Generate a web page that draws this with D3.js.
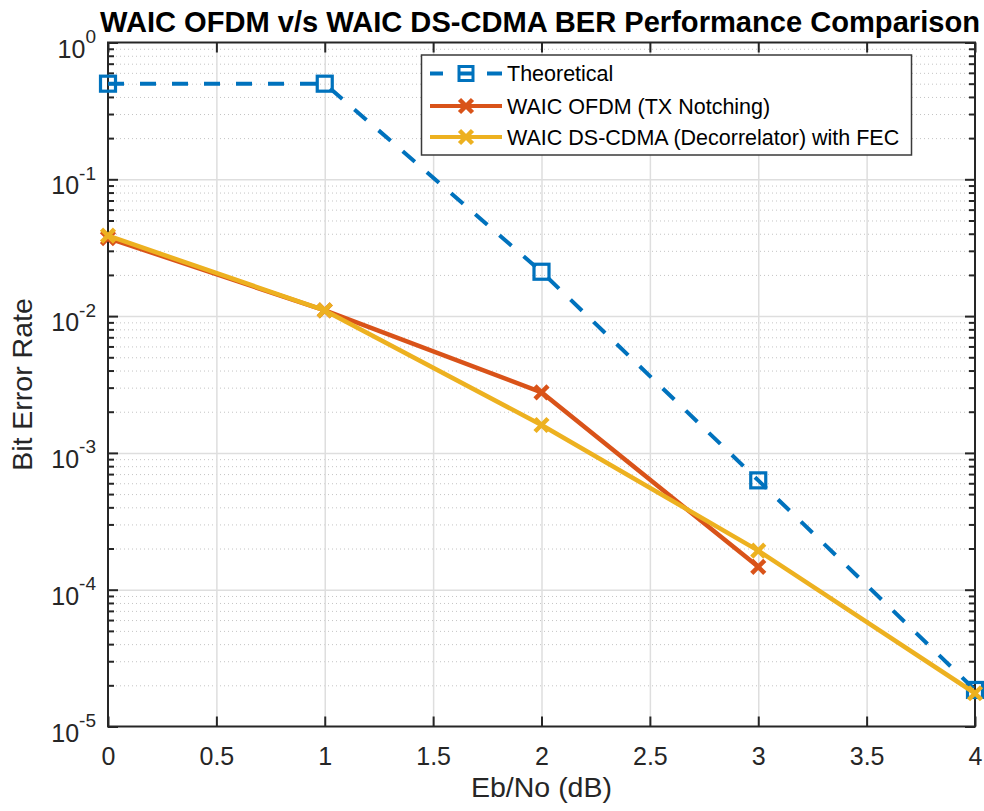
<!DOCTYPE html>
<html>
<head>
<meta charset="utf-8">
<script src="https://cdn.jsdelivr.net/npm/d3@7/dist/d3.min.js"></script>
<style>
  body { margin: 0; background: #fff; }
  svg { font-family: "Liberation Sans", Arial, Helvetica, sans-serif; }
  .grid line { stroke: #dedede; stroke-width: 1.5; }
  .minor line { stroke: #c4c4c4; stroke-width: 1; stroke-dasharray: 1,3; }
  .grid path, .minor path, .ax path { display: none; }
  .ax line { stroke: #262626; stroke-width: 2; }
</style>
</head>
<body>
<svg width="984" height="811"></svg>
<script>
// Eb/No values (dB)
var ebno = [0, 1, 2, 3, 4];
var ebnoOfdm = [0, 1, 2, 3];

// BER series
var berTheory = [0.5, 0.5, 0.0211, 6.3e-4, 1.85e-5];
var berOfdm = [0.0372, 0.011, 2.77e-3, 1.47e-4];
var berCdma = [0.0387, 0.011, 1.6e-3, 1.93e-4, 1.75e-5];

var xTicks = [0, 0.5, 1, 1.5, 2, 2.5, 3, 3.5, 4];
var yDecades = [1e-5, 1e-4, 1e-3, 1e-2, 1e-1, 1];
var yExp = ["-5", "-4", "-3", "-2", "-1", "0"];

var legendNames = ["Theoretical", "WAIC OFDM (TX Notching)", "WAIC DS-CDMA (Decorrelator) with FEC"];
var colors = ["#0072BD", "#D95319", "#EDB120"];

var svg = d3.select("svg"),
    pLeft = 108, pRight = 975, pTop = 42.5, pBottom = 726.5,
    width = pRight - pLeft, height = pBottom - pTop;

var x = d3.scaleLinear().domain([0, 4]).range([pLeft, pRight]);
var y = d3.scaleLog().domain([1e-5, 1]).range([pBottom, pTop]);

// minor values 2..9 per decade
var yMinor = [];
for (var e = -5; e < 0; e++) {
    for (var m = 2; m <= 9; m++) yMinor.push(m * Math.pow(10, e));
}

// grid
svg.append("g").attr("class", "minor")
    .attr("transform", "translate(" + pLeft + ",0)")
    .call(d3.axisLeft(y).tickValues(yMinor).tickSize(-width).tickFormat(""));
svg.append("g").attr("class", "grid")
    .attr("transform", "translate(" + pLeft + ",0)")
    .call(d3.axisLeft(y).tickValues(yDecades.slice(1, -1)).tickSize(-width).tickFormat(""));
svg.append("g").attr("class", "grid")
    .attr("transform", "translate(0," + pBottom + ")")
    .call(d3.axisBottom(x).tickValues(xTicks.slice(1, -1)).tickSize(-height).tickFormat(""));

// ticks (inward) on all four sides
svg.append("g").attr("class", "ax xb")
    .attr("transform", "translate(0," + pBottom + ")")
    .call(d3.axisBottom(x).tickValues(xTicks).tickSize(-10).tickFormat(d3.format("")));
svg.append("g").attr("class", "ax")
    .attr("transform", "translate(0," + pTop + ")")
    .call(d3.axisTop(x).tickValues(xTicks).tickSize(-10).tickFormat(""));
svg.append("g").attr("class", "ax")
    .attr("transform", "translate(" + pLeft + ",0)")
    .call(d3.axisLeft(y).tickValues(yDecades).tickSize(-10).tickFormat(""));
svg.append("g").attr("class", "ax")
    .attr("transform", "translate(" + pLeft + ",0)")
    .call(d3.axisLeft(y).tickValues(yMinor).tickSize(-6).tickFormat(""));
svg.append("g").attr("class", "ax")
    .attr("transform", "translate(" + pRight + ",0)")
    .call(d3.axisRight(y).tickValues(yDecades).tickSize(-10).tickFormat(""));
svg.append("g").attr("class", "ax")
    .attr("transform", "translate(" + pRight + ",0)")
    .call(d3.axisRight(y).tickValues(yMinor).tickSize(-6).tickFormat(""));

svg.selectAll(".xb text")
    .attr("y", 38.5).attr("dy", null)
    .attr("fill", "#262626").style("font-size", "25px").style("font-family", null);

// y tick labels 10^n
yDecades.forEach(function(v, i) {
    var t = svg.append("text")
        .attr("x", 96).attr("y", y(v) + 15)
        .attr("text-anchor", "end")
        .attr("fill", "#262626")
        .style("font-size", "25px");
    t.append("tspan").text("10");
    t.append("tspan").attr("dy", -14.5).style("font-size", "19px").text(yExp[i]);
});

// box
svg.append("rect")
    .attr("x", pLeft).attr("y", pTop).attr("width", width).attr("height", height)
    .attr("fill", "none").attr("stroke", "#262626").attr("stroke-width", 2);

// series
var line = d3.line().x(function(d) { return x(d[0]); }).y(function(d) { return y(d[1]); });
var cross = "M-6.5,-6.5L6.5,6.5M-6.5,6.5L6.5,-6.5";

var theory = d3.zip(ebno, berTheory),
    ofdm = d3.zip(ebnoOfdm, berOfdm),
    cdma = d3.zip(ebno, berCdma);

svg.append("path").datum(theory)
    .attr("d", line).attr("fill", "none")
    .attr("stroke", colors[0]).attr("stroke-width", 4)
    .attr("stroke-dasharray", "16,16");
svg.selectAll(".sq").data(theory).enter().append("rect")
    .attr("x", function(d) { return x(d[0]) - 7.5; })
    .attr("y", function(d) { return y(d[1]) - 7.5; })
    .attr("width", 15).attr("height", 15)
    .attr("fill", "none").attr("stroke", colors[0]).attr("stroke-width", 3.2);

[[ofdm, colors[1]], [cdma, colors[2]]].forEach(function(s) {
    svg.append("path").datum(s[0])
        .attr("d", line).attr("fill", "none")
        .attr("stroke", s[1]).attr("stroke-width", 4.5)
        .attr("stroke-linejoin", "round");
    svg.append("g").selectAll("path").data(s[0]).enter().append("path")
        .attr("transform", function(d) { return "translate(" + x(d[0]) + "," + y(d[1]) + ")"; })
        .attr("d", cross).attr("fill", "none")
        .attr("stroke", s[1]).attr("stroke-width", 4.5);
});

// title and axis labels
svg.append("text")
    .attr("x", 540).attr("y", 31.5)
    .attr("text-anchor", "middle").attr("fill", "#000")
    .style("font-size", "29.1px").style("font-weight", "bold")
    .text("WAIC OFDM v/s WAIC DS-CDMA BER Performance Comparison");
svg.append("text")
    .attr("x", (pLeft + pRight) / 2).attr("y", 797)
    .attr("text-anchor", "middle").attr("fill", "#262626")
    .style("font-size", "28.5px")
    .text("Eb/No (dB)");
svg.append("text")
    .attr("transform", "translate(32," + (pTop + pBottom) / 2 + ") rotate(-90)")
    .attr("text-anchor", "middle").attr("fill", "#262626")
    .style("font-size", "28.5px")
    .text("Bit Error Rate");

// legend
var lg = svg.append("g");
lg.append("rect")
    .attr("x", 421.5).attr("y", 55).attr("width", 490).attr("height", 100)
    .attr("fill", "#fff").attr("stroke", "#3a3a3a").attr("stroke-width", 1.5);
var rowY = [73.5, 106, 137];
legendNames.forEach(function(name, i) {
    var ry = rowY[i];
    var l = lg.append("line")
        .attr("x1", 430).attr("x2", 502).attr("y1", ry).attr("y2", ry)
        .attr("stroke", colors[i]).attr("stroke-width", 4);
    if (i === 0) {
        l.attr("stroke-dasharray", "13,15,14,15,15");
        lg.append("rect")
            .attr("x", 459).attr("y", ry - 7).attr("width", 14).attr("height", 14)
            .attr("fill", "none").attr("stroke", colors[i]).attr("stroke-width", 3);
    } else {
        lg.append("path")
            .attr("transform", "translate(466," + ry + ")")
            .attr("d", cross).attr("fill", "none")
            .attr("stroke", colors[i]).attr("stroke-width", 4.5);
    }
    lg.append("text")
        .attr("x", 507).attr("y", ry).attr("dy", "0.35em")
        .attr("fill", "#000").style("font-size", "21.5px")
        .text(name);
});
</script>
</body>
</html>
